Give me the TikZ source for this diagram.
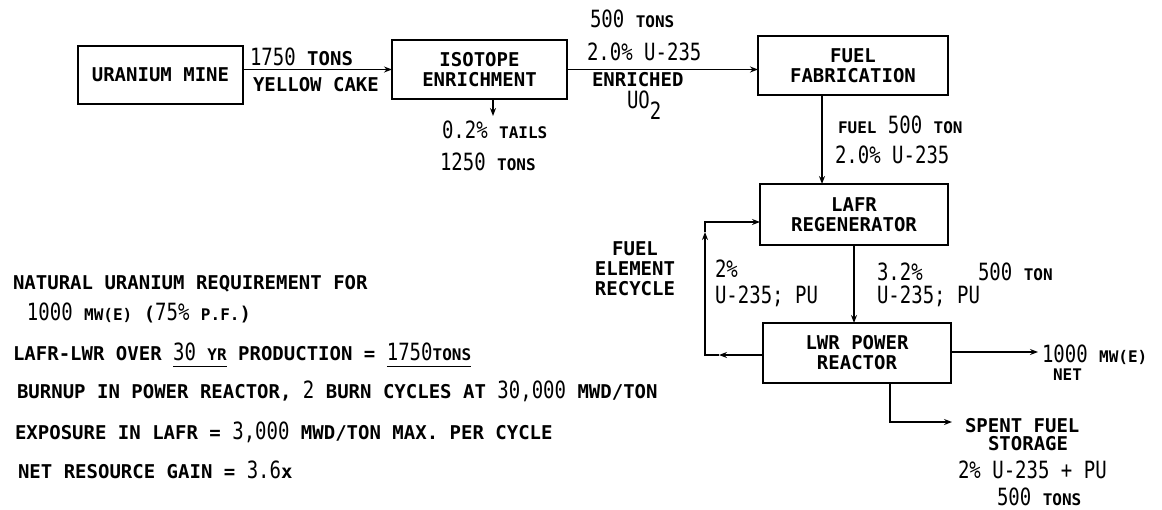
\documentclass[tikz,border=0pt]{standalone}
\usepackage{fontspec}
\setmainfont{DejaVu Sans Mono}
\usepackage{graphicx}
\usetikzlibrary{arrows.meta}
\newcommand\dg[1]{\scalebox{1}[1.25]{\mdseries #1}}
\newcommand\sm[1]{{\fontsize{16}{18}\selectfont #1}}
\newsavebox\ulbox
\newcommand\ulx[1]{\sbox\ulbox{#1}\rlap{\raisebox{-7pt}{\rule{\wd\ulbox}{1.3pt}}}\usebox\ulbox}
\begin{document}
\begin{tikzpicture}[x=1pt,y=-1pt,
  every node/.style={font=\fontsize{19}{20}\selectfont\bfseries, inner sep=0pt, outer sep=0pt},
  box/.style={draw, line width=1.6pt, align=center},
  ln/.style={line width=1.6pt},
  arr/.style={ln, -{Stealth[length=8pt,width=6pt]}},
  lbl/.style={anchor=base west}]
\useasboundingbox (0,0) rectangle (1162,509);
% boxes
\node[box, minimum width=165pt, minimum height=58pt] (mine) at (160.5,75) {URANIUM MINE};
\node[box, minimum width=175pt, minimum height=59pt] (enr) at (479.5,69.5) {ISOTOPE\\ENRICHMENT};
\node[box, minimum width=190pt, minimum height=59pt] (fab) at (853,65.5) {FUEL\\FABRICATION};
\node[box, minimum width=188pt, minimum height=61pt] (lafr) at (854,214.5) {LAFR\\REGENERATOR};
\node[box, minimum width=188pt, minimum height=60pt] (lwr) at (857,353) {LWR POWER\\REACTOR};
% labels
\node[lbl] (l1750) at (250,65) {\dg{1750} TONS};
\node[lbl] (lyc) at (253,91) {YELLOW CAKE};
\node[lbl] (l500a) at (590,27) {\dg{500} \sm{TONS}};
\node[lbl] (l20a) at (587,60) {\dg{2.0\% U-235}};
\node[lbl] (lenr) at (592,86) {ENRICHED};
\node[lbl] (luo) at (627,108) {\dg{UO}\raisebox{-11pt}{\dg{2}}};
\node[lbl] (ltail) at (442,138) {\dg{0.2\%} \sm{TAILS}};
\node[lbl] (l1250) at (440,170) {\dg{1250} \sm{TONS}};
\node[lbl] (lfuel) at (838,133) {\sm{FUEL} \dg{500} \sm{TON}};
\node[lbl] (l20b) at (835,163) {\dg{2.0\% U-235}};
\node[align=center] (lrec) at (635,269) {FUEL\\ELEMENT\\RECYCLE};
\node[lbl] (l2p) at (715,277) {\dg{2\%}};
\node[lbl] (lu1) at (715,303) {\dg{U-235; PU}};
\node[lbl] (l32) at (877,280) {\dg{3.2\%}};
\node[lbl] (lu2) at (877,303) {\dg{U-235; PU}};
\node[lbl] (l500b) at (978,280) {\dg{500} \sm{TON}};
\node[lbl] (lmw) at (1042,362) {\dg{1000} \sm{MW(E)}};
\node[lbl] (lnet) at (1053,380) {\sm{NET}};
\node[lbl] (lsp1) at (965,432) {SPENT FUEL};
\node[lbl] (lsp2) at (988,450) {STORAGE};
\node[lbl] (lsp3) at (958,478) {\dg{2\% U-235 + PU}};
\node[lbl] (lsp4) at (997,505) {\dg{500} \sm{TONS}};
% notes
\node[lbl] (t1) at (13,289) {NATURAL URANIUM REQUIREMENT FOR};
\node[lbl] (t2) at (27,320) {\dg{1000} \sm{MW(E)} (\dg{75\%} \sm{P.F.})};
\node[lbl] (t3) at (13,360) {LAFR-LWR OVER \ulx{\dg{30} \sm{YR}} PRODUCTION = \ulx{\dg{1750}\sm{TONS}}};
\node[lbl] (t4) at (17,398) {BURNUP IN POWER REACTOR, \dg{2} BURN CYCLES AT \dg{30,000} MWD/TON};
\node[lbl] (t5) at (15,439) {EXPOSURE IN LAFR = \dg{3,000} MWD/TON MAX. PER CYCLE};
\node[lbl] (t6) at (18,478) {NET RESOURCE GAIN = \dg{3.6}x};
% connectors
\draw[arr] (mine.east |- enr.west) -- (enr.west);
\draw[arr] (enr.east) -- (enr.east -| fab.west);
\coordinate (fx) at (822,0);
\draw[arr] (fab.south -| fx) -- (lafr.north -| fx);
\draw[arr] (lafr.south) -- (lafr.south |- lwr.north);
\coordinate (tl) at (493,116);
\draw[arr] (enr.south -| tl) -- (tl);
\coordinate (rb) at (705,355);
\coordinate (ra) at (719,355);
\coordinate (rv) at (705,232);
\coordinate (rt) at (705,222);
\draw[arr] (lwr.west |- rb) -- (ra);
\draw[arr] (ra) -- (rb) -- (rv);
\draw[arr] (rv) -- (rt) -- (lafr.west |- rt);
\coordinate (pw) at (1038,352);
\draw[arr] (lwr.east |- pw) -- (pw);
\coordinate (sp) at (890,422);
\coordinate (se) at (952,422);
\draw[arr] (lwr.south -| sp) -- (sp) -- (se);
\end{tikzpicture}
\end{document}
